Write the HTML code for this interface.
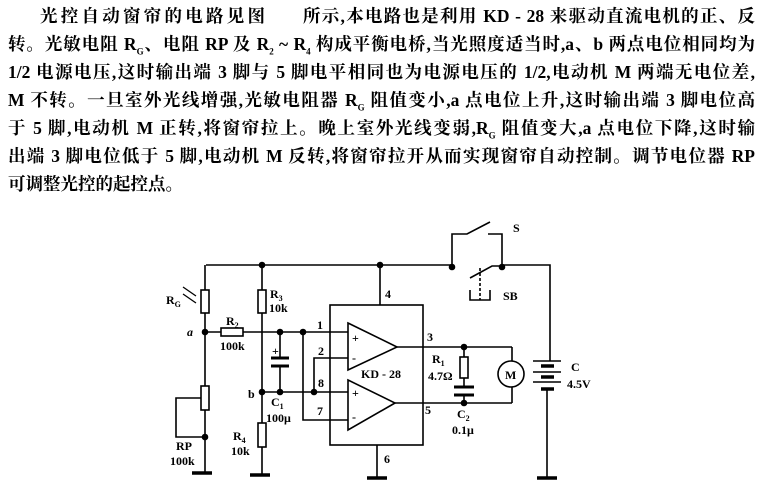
<!DOCTYPE html>
<html><head><meta charset="utf-8"><style>
html,body{margin:0;padding:0;background:#fff;}
body{width:763px;height:489px;position:relative;overflow:hidden;font-family:"Liberation Serif","Noto Serif CJK SC","Noto Sans CJK SC",serif;}
.l{position:absolute;font-size:17.5px;line-height:20px;white-space:nowrap;color:#000;font-weight:bold;text-align:justify;text-align-last:justify;}
svg{position:absolute;left:0;top:0;}
svg text{font-family:"Liberation Serif",serif;font-weight:bold;font-size:12px;fill:#000;}
</style></head><body>
<div class="l" style="left:40px;top:6px;width:225px;">光控自动窗帘的电路见图</div>
<div class="l" style="left:303px;top:6px;width:452px;">所示,本电路也是利用 KD - 28 来驱动直流电机的正、反</div>
<div class="l" style="left:8px;top:34px;width:747px;">转。光敏电阻 R<sub style="font-size:9px">G</sub>、电阻 RP 及 R<sub style="font-size:9px">2</sub> ~ R<sub style="font-size:9px">4</sub> 构成平衡电桥,当光照度适当时,a、b 两点电位相同均为</div>
<div class="l" style="left:8px;top:62px;width:747px;">1/2 电源电压,这时输出端 3 脚与 5 脚电平相同也为电源电压的 1/2,电动机 M 两端无电位差,</div>
<div class="l" style="left:8px;top:90px;width:747px;">M 不转。一旦室外光线增强,光敏电阻器 R<sub style="font-size:9px">G</sub> 阻值变小,a 点电位上升,这时输出端 3 脚电位高</div>
<div class="l" style="left:8px;top:118px;width:747px;">于 5 脚,电动机 M 正转,将窗帘拉上。晚上室外光线变弱,R<sub style="font-size:9px">G</sub> 阻值变大,a 点电位下降,这时输</div>
<div class="l" style="left:8px;top:146px;width:747px;">出端 3 脚电位低于 5 脚,电动机 M 反转,将窗帘拉开从而实现窗帘自动控制。调节电位器 RP</div>
<div class="l" style="left:8px;top:174px;">可调整光控的起控点。</div>
<svg width="763" height="489" viewBox="0 0 763 489" stroke="#000" stroke-width="1.6" fill="none">
<path d="M206 265 H452 M452 265 V234 H467 L490 222 M488 234 H502 V265 M502 265 H550 V361"/>
<path d="M470 278 L492 266 H502"/>
<path d="M480 268 V300" stroke-dasharray="3,2"/>
<path d="M470 290 V300 H490 V290"/>
<circle cx="262" cy="265" r="2.5" fill="#000"/><circle cx="380" cy="265" r="2.5" fill="#000"/>
<circle cx="452" cy="267" r="2.5" fill="#000"/><circle cx="502" cy="267" r="2.5" fill="#000"/>
<path d="M205 265 V290 M205 313 V386 M205 410 V473"/>
<rect x="201" y="290" width="8" height="23" fill="#fff"/>
<path d="M183 287 L196 296 M183 294 L196 303" stroke-width="1.3"/>
<circle cx="205" cy="332" r="2.5" fill="#000"/>
<path d="M205 332 H221 M243 332 H330"/>
<rect x="221" y="328" width="22" height="8" fill="#fff"/>
<rect x="201" y="386" width="8" height="24" fill="#fff"/>
<path d="M201 398 H176 V437 H205"/>
<circle cx="205" cy="437" r="2.5" fill="#000"/>
<path d="M192 473 H212" stroke-width="3.5"/>
<path d="M262 265 V290 M262 313 V423 M262 447 V475"/>
<rect x="258" y="290" width="8" height="23" fill="#fff"/>
<rect x="258" y="423" width="8" height="24" fill="#fff"/>
<path d="M250 475 H270" stroke-width="3.5"/>
<circle cx="262" cy="392" r="2.5" fill="#000"/>
<path d="M280 332 V358 M280 366 V392"/>
<path d="M271 358 H289 M271 366 H289" stroke-width="3"/>
<circle cx="280" cy="332" r="2.5" fill="#000"/><circle cx="280" cy="392" r="2.5" fill="#000"/>
<circle cx="303" cy="332" r="2.5" fill="#000"/><circle cx="314" cy="392" r="2.5" fill="#000"/>
<path d="M262 392 H348 M314 392 V358 H348 M303 332 V420 H348 M330 332 H348"/>
<rect x="330" y="305" width="93" height="140"/>
<path d="M380 265 V305 M377 445 V478"/>
<path d="M367 478 H387" stroke-width="3.5"/>
<path d="M348 323 L397 347 L348 370 Z" fill="#fff"/>
<path d="M348 380 L395 403 L348 430 Z" fill="#fff"/>
<path d="M397 347 H512 M395 403 H512"/>
<circle cx="464" cy="347" r="2.5" fill="#000"/><circle cx="464" cy="403" r="2.5" fill="#000"/>
<path d="M464 347 V357 M464 378 V387 M464 395 V403"/>
<rect x="460" y="357" width="8" height="21" fill="#fff"/>
<path d="M454 387 H474 M454 395 H474" stroke-width="3"/>
<path d="M512 347 V361 M512 387 V403"/>
<circle cx="511" cy="374" r="13" fill="#fff"/>
<path d="M533 361 H561 M533 372 H561 M533 382 H561"/>
<path d="M541 366 H554 M541 377 H554 M541 389 H554" stroke-width="3.5"/>
<path d="M547 389 V478"/>
<path d="M537 478 H557" stroke-width="3.5"/>
<g stroke="none" fill="#000">
<text x="166" y="304">R<tspan font-size="8" dy="3">G</tspan></text>
<text x="187" y="336" font-style="italic">a</text>
<text x="248" y="398">b</text>
<text x="226" y="325">R<tspan font-size="8" dy="3">2</tspan></text>
<text x="220" y="350">100k</text>
<text x="270" y="298">R<tspan font-size="8" dy="3">3</tspan></text>
<text x="269" y="312">10k</text>
<text x="272" y="355">+</text>
<text x="271" y="406">C<tspan font-size="8" dy="3">1</tspan></text>
<text x="266" y="422">100μ</text>
<text x="233" y="440">R<tspan font-size="8" dy="3">4</tspan></text>
<text x="231" y="455">10k</text>
<text x="176" y="450">RP</text>
<text x="170" y="465">100k</text>
<text x="317" y="329">1</text><text x="318" y="355">2</text>
<text x="318" y="387">8</text><text x="317" y="415">7</text>
<text x="385" y="298">4</text><text x="384" y="463">6</text>
<text x="427" y="341">3</text><text x="425" y="414">5</text>
<text x="352" y="342">+</text><text x="352" y="362">-</text>
<text x="352" y="397">+</text><text x="352" y="421">-</text>
<text x="361" y="378">KD - 28</text>
<text x="432" y="363">R<tspan font-size="8" dy="3">1</tspan></text>
<text x="428" y="380">4.7Ω</text>
<text x="457" y="418">C<tspan font-size="8" dy="3">2</tspan></text>
<text x="452" y="434">0.1μ</text>
<text x="505" y="379">M</text>
<text x="571" y="371">C</text>
<text x="567" y="388">4.5V</text>
<text x="503" y="300">SB</text>
<text x="513" y="232">S</text>
</g>
</svg>
</body></html>
